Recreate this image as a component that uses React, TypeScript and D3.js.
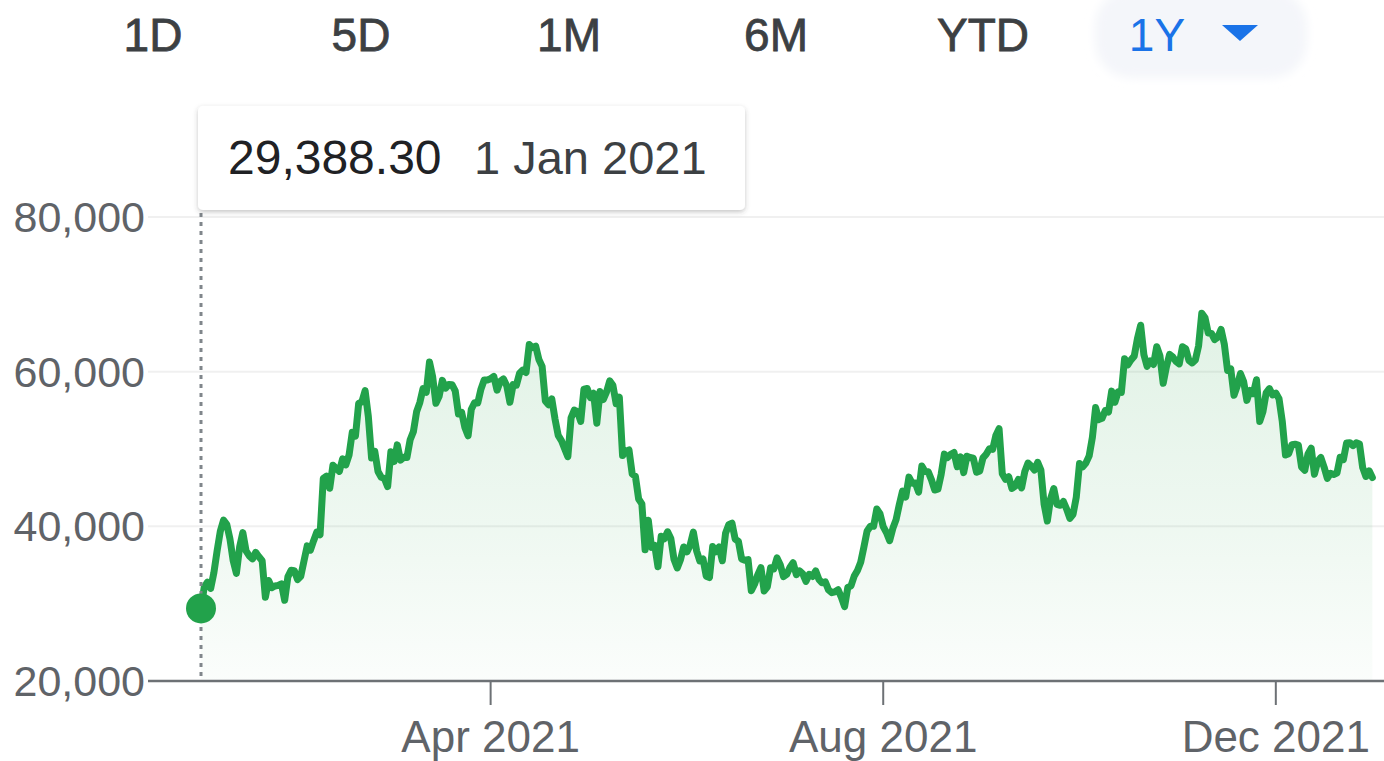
import React from "react";
import * as d3 from "d3";

// Daily closing values (USD)
const jan = [29388, 32127, 32782, 31971, 33992, 36824, 39371, 40797, 40254, 38356, 35566, 33922, 37316, 39187, 36825, 36178, 35792, 36630, 36070, 35548, 30825, 33005, 32067, 32289, 32366, 32570, 30432, 33466, 34316, 34270, 33114];
const feb = [33537, 35510, 37472, 36926, 38144, 39266, 38903, 46196, 46481, 44919, 47909, 47504, 47106, 48717, 47945, 49199, 52149, 51679, 55888, 56100, 57539, 54207, 48825, 49705, 47093, 46339, 46188, 45137];
const mar = [49632, 48378, 50538, 48561, 48928, 48912, 51206, 52247, 54824, 56008, 57805, 57333, 61243, 59302, 55907, 56804, 58870, 57858, 58347, 58313, 57524, 54529, 54738, 52775, 51704, 55137, 55974, 55948, 57750, 58918, 58918];
const apr = [59095, 59384, 57604, 58758, 59057, 58192, 56048, 58323, 58245, 59793, 60204, 59893, 63503, 63110, 63314, 61572, 60683, 56216, 55724, 56474, 53906, 51763, 51093, 50050, 49004, 54021, 55034, 54824, 53556, 57750];
const may = [57828, 56631, 57200, 53333, 57424, 56396, 57357, 58804, 58233, 55859, 56704, 49150, 49716, 49880, 46761, 46456, 43538, 42909, 36965, 40784, 37281, 37529, 34770, 38706, 38403, 39295, 38436, 35697, 34617, 35678, 37333];
const jun = [36693, 37568, 39246, 36852, 35520, 35797, 33552, 33380, 37389, 36702, 37334, 35553, 39098, 40218, 40407, 38347, 38053, 35787, 35616, 35698, 31676, 32506, 33724, 34663, 31637, 32186, 34650, 34494, 35911, 35045];
const jul = [33504, 33786, 34669, 35287, 33747, 34235, 33855, 32877, 33798, 33520, 34240, 33155, 32702, 32822, 31781, 31421, 31533, 31796, 30817, 29607, 32110, 32314, 33581, 34292, 35350, 37337, 39406, 39995, 40008, 42235, 41626];
const aug = [39974, 39201, 38152, 39747, 40869, 42816, 44555, 43798, 46365, 45585, 45593, 44428, 47793, 47096, 47047, 46004, 44695, 44801, 46717, 49339, 48905, 49321, 49546, 47707, 48993, 46942, 49058, 48897, 48807, 46991, 47166];
const sep = [48848, 49328, 50025, 49944, 51753, 52633, 46812, 46092, 46408, 44896, 45201, 46063, 44963, 47093, 48176, 47784, 47268, 48278, 47260, 42844, 40693, 43575, 44896, 42840, 42716, 43209, 42235, 41035, 41565, 43790];
const oct = [48117, 47712, 48200, 49112, 51515, 55362, 53805, 53968, 54966, 54772, 57485, 56041, 57401, 57322, 61673, 60876, 61528, 62010, 64281, 66002, 62211, 60692, 61393, 60931, 63227, 62026, 58503, 60622, 62228, 61888, 61319];
const nov = [61004, 63227, 62970, 61452, 61125, 61527, 63327, 67566, 66971, 64995, 64950, 64155, 64469, 65466, 63558, 60162, 60368, 56943, 58120, 59761, 58729, 56289, 57569, 57160, 58961, 53570, 54816, 57248, 57807, 56998];
const dec = [57230, 56509, 53602, 49227, 49397, 50561, 50617, 50505, 47672, 47244, 49362, 50100, 46737, 48379, 48897, 47665, 46202, 46849, 46708, 46880, 48937, 48628, 50784, 50822, 50429, 50810, 50640, 47588, 46444, 47178, 46306];

const months = [jan, feb, mar, apr, may, jun, jul, aug, sep, oct, nov, dec];
const rangeButtons = ["1D", "5D", "1M", "6M", "YTD", "1Y"];
const yTicks = [20000, 40000, 60000, 80000];
const xTicks = [new Date(2021, 3, 1), new Date(2021, 7, 1), new Date(2021, 11, 1)];
const tooltipValue = "29,388.30";
const tooltipDate = "1 Jan 2021";

type Pt = { date: Date; value: number };
const data: Pt[] = [];
months.forEach((arr, m) => {
  arr.forEach((v, i) => data.push({ date: new Date(2021, m, i + 1), value: v }));
});

const W = 1384;
const H = 761;
const FONT = "'Liberation Sans', Arial, Helvetica, sans-serif";

export default function App() {
  const x = d3
    .scaleTime()
    .domain([new Date(2021, 0, 1), new Date(2021, 11, 31)])
    .range([201, 201 + 364 * 3.218]);
  const y = d3.scaleLinear().domain([20000, 80000]).range([681, 217]);

  const line = d3
    .line<Pt>()
    .x((d) => x(d.date))
    .y((d) => y(d.value))
    .curve(d3.curveLinear);
  const area = d3
    .area<Pt>()
    .x((d) => x(d.date))
    .y0(y(20000))
    .y1((d) => y(d.value));

  const fmtY = d3.format(",");
  const fmtX = d3.timeFormat("%b %Y");
  const first = data[0];

  const btnCenters = [153, 361, 569, 776, 983, 1157];

  return (
    <div style={{ position: "fixed", left: 0, top: 0, width: W, height: H, background: "#fff" }}>
      <svg width={W} height={H} viewBox={`0 0 ${W} ${H}`} style={{ display: "block", fontFamily: FONT }}>
        <defs>
          <linearGradient id="areaGrad" gradientUnits="userSpaceOnUse" x1="0" y1={y(68000)} x2="0" y2={y(20000)}>
            <stop offset="0%" stopColor="#34a853" stopOpacity={0.15} />
            <stop offset="60%" stopColor="#34a853" stopOpacity={0.08} />
            <stop offset="100%" stopColor="#34a853" stopOpacity={0.02} />
          </linearGradient>
          <filter id="tipShadow" x="-10%" y="-30%" width="120%" height="170%">
            <feDropShadow dx="0" dy="2" stdDeviation="2.5" floodColor="#3c4043" floodOpacity="0.3" />
          </filter>
          <filter id="pillBlur" x="-20%" y="-50%" width="140%" height="200%">
            <feGaussianBlur stdDeviation="5" />
          </filter>
        </defs>

        {/* range selector */}
        <rect x={1095} y={-10} width={212} height={88} rx={36} fill="#f4f6fa" filter="url(#pillBlur)" />
        {rangeButtons.map((b, i) => (
          <text
            key={b}
            x={btnCenters[i]}
            y={51}
            textAnchor="middle"
            fontSize={46}
            fill={b === "1Y" ? "#1a73e8" : "#3c4043"}
            stroke={b === "1Y" ? "#1a73e8" : "#3c4043"}
            strokeWidth={b === "1Y" ? 0 : 0.8}
          >
            {b}
          </text>
        ))}
        <path d="M1222,25 L1258,25 L1240,41 Z" fill="#1a73e8" />

        {/* gridlines */}
        {yTicks.slice(1).map((t) => (
          <line key={t} x1={148} x2={W} y1={y(t)} y2={y(t)} stroke="#f0f0f0" strokeWidth={2} />
        ))}

        {/* area + line */}
        <path d={area(data) || ""} fill="url(#areaGrad)" />
        <path d={line(data) || ""} fill="none" stroke="#22a24b" strokeWidth={7} strokeLinejoin="round" strokeLinecap="round" />

        {/* axis */}
        <line x1={148} x2={W} y1={y(20000)} y2={y(20000)} stroke="#6d7175" strokeWidth={2.5} />
        {xTicks.map((t) => (
          <g key={t.getTime()}>
            <line x1={x(t)} x2={x(t)} y1={y(20000)} y2={y(20000) + 24} stroke="#6d7175" strokeWidth={2} />
            <text x={x(t)} y={752} textAnchor="middle" fontSize={44} fill="#5f6368">
              {fmtX(t)}
            </text>
          </g>
        ))}
        {yTicks.map((t) => (
          <text key={t} x={145} y={y(t) + 15} textAnchor="end" fontSize={43} fill="#5f6368">
            {fmtY(t)}
          </text>
        ))}

        {/* hover line + dot */}
        <line
          x1={x(first.date)}
          x2={x(first.date)}
          y1={213}
          y2={677}
          stroke="#80868b"
          strokeWidth={3}
          strokeDasharray="4,5"
        />
        <circle cx={x(first.date)} cy={y(first.value)} r={15} fill="#22a24b" />

        {/* tooltip */}
        <rect x={198} y={106} width={547} height={104} rx={5} fill="#fff" filter="url(#tipShadow)" />
        <text x={228} y={174} fontSize={48} fill="#202124">
          {tooltipValue}
        </text>
        <text x={474} y={174} fontSize={47} fill="#3c4043">
          {tooltipDate}
        </text>
      </svg>
    </div>
  );
}
